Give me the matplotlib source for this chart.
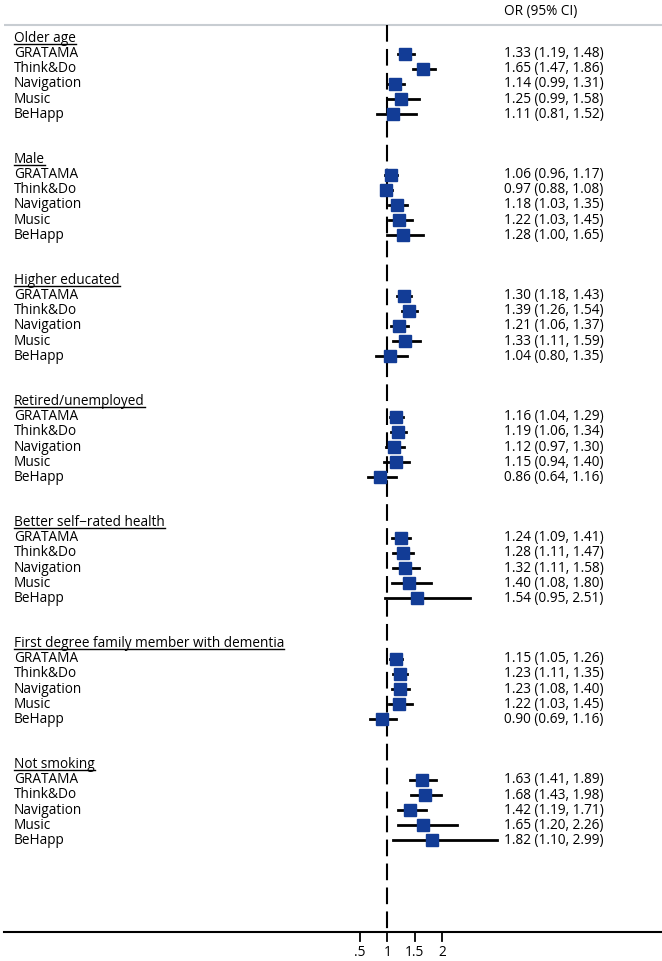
import numpy as np
import matplotlib.pyplot as plt

plt.rcParams['font.family'] = ['Open Sans', 'DejaVu Sans']

groups = ['Older age', 'Male', 'Higher educated', 'Retired/unemployed',
          'Better self\u2212rated health', 'First degree family member with dementia',
          'Not smoking']
studies = ['GRATAMA', 'Think&Do', 'Navigation', 'Music', 'BeHapp']

or_vals = [[1.33, 1.65, 1.14, 1.25, 1.11],
           [1.06, 0.97, 1.18, 1.22, 1.28],
           [1.30, 1.39, 1.21, 1.33, 1.04],
           [1.16, 1.19, 1.12, 1.15, 0.86],
           [1.24, 1.28, 1.32, 1.40, 1.54],
           [1.15, 1.23, 1.23, 1.22, 0.90],
           [1.63, 1.68, 1.42, 1.65, 1.82]]
ci_lo = [[1.19, 1.47, 0.99, 0.99, 0.81],
         [0.96, 0.88, 1.03, 1.03, 1.00],
         [1.18, 1.26, 1.06, 1.11, 0.80],
         [1.04, 1.06, 0.97, 0.94, 0.64],
         [1.09, 1.11, 1.11, 1.08, 0.95],
         [1.05, 1.11, 1.08, 1.03, 0.69],
         [1.41, 1.43, 1.19, 1.20, 1.10]]
ci_hi = [[1.48, 1.86, 1.31, 1.58, 1.52],
         [1.17, 1.08, 1.35, 1.45, 1.65],
         [1.43, 1.54, 1.37, 1.59, 1.35],
         [1.29, 1.34, 1.30, 1.40, 1.16],
         [1.41, 1.47, 1.58, 1.80, 2.51],
         [1.26, 1.35, 1.40, 1.45, 1.16],
         [1.89, 1.98, 1.71, 2.26, 2.99]]

xticks = [0.5, 1, 1.5, 2]
xticklabels = ['.5', '1', '1.5', '2']

W, H = 662, 961
fig = plt.figure(figsize=(W / 100, H / 100), dpi=100)
ax = fig.add_axes([0, 0, 1, 1])

# pixel mapping: x=1 at 387.3px, 55px per unit; y in pixels from top
px_per_unit = 55.0
x1_px = 387.3
ax.set_xlim(1 - x1_px / px_per_unit, 1 + (W - x1_px) / px_per_unit)
row_h = 15.13
y0_px = 38.5
ax.set_ylim(H, 0)
ax.axis('off')

navy = '#123c96'
txt_fs = 9.8

def xfig(px):
    return ax.get_xlim()[0] + px / W * (ax.get_xlim()[1] - ax.get_xlim()[0])

# top rule and header
ax.plot([xfig(4), xfig(W)], [25, 25], color='#c8cdd2', lw=1.5, solid_capstyle='butt')
ax.text(xfig(504), 11, 'OR (95% CI)', fontsize=txt_fs, va='center', ha='left')

# null line
ax.plot([1, 1], [25, 932], color='black', lw=1.5, dashes=(8, 3.5))

# x axis
ax.plot([xfig(4), xfig(W)], [932, 932], color='black', lw=1.5)
for t, lab in zip(xticks, xticklabels):
    ax.plot([t, t], [932, 941], color='black', lw=1.3)
    ax.text(t, 953, lab, fontsize=txt_fs, ha='center', va='center')

fig.canvas.draw()
renderer = fig.canvas.get_renderer()

row = 0
for g, name in enumerate(groups):
    y = y0_px + row * row_h
    t = ax.text(xfig(14), y, name, fontsize=txt_fs, va='center', ha='left')
    bb = t.get_window_extent(renderer=renderer)
    ax.plot([xfig(bb.x0), xfig(bb.x1)], [y + 5.5, y + 5.5], color='black', lw=1.0)
    row += 1
    for s, st in enumerate(studies):
        y = y0_px + row * row_h
        ax.text(xfig(14), y, st, fontsize=txt_fs, va='center', ha='left')
        ax.plot([ci_lo[g][s], ci_hi[g][s]], [y, y], color='black', lw=2, zorder=2)
        ax.plot(or_vals[g][s], y, marker='s', ms=8.3, color=navy, mec=navy, zorder=3)
        ax.text(xfig(504), y, '%.2f (%.2f, %.2f)' % (or_vals[g][s], ci_lo[g][s], ci_hi[g][s]),
                fontsize=txt_fs, va='center', ha='left')
        row += 1
    row += 2

fig.savefig('out.png', dpi=100)
